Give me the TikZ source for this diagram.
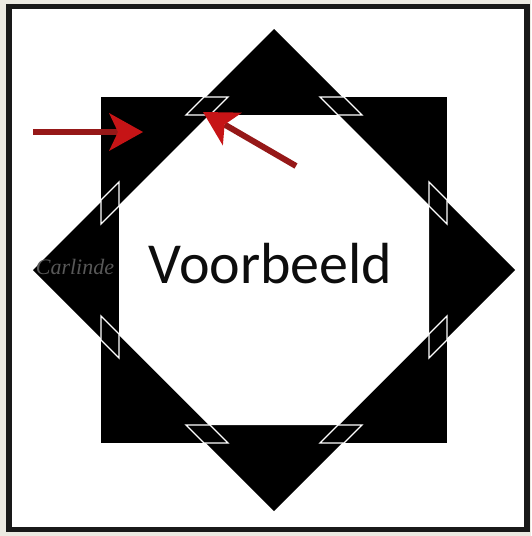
\documentclass[tikz,border=0pt]{standalone}
\usepackage{fontspec}
\setmainfont{Carlito}
\newfontfamily\signfont{Liberation Serif}
\usepackage{xcolor}
\usetikzlibrary{arrows.meta}

\definecolor{paper}{RGB}{236,234,226}
\definecolor{arrowred}{RGB}{150,24,24}
\definecolor{tipred}{RGB}{198,20,22}
\definecolor{signgray}{RGB}{88,88,88}

\begin{document}
\begin{tikzpicture}[
    x=1pt, y=-1pt,
    frame/.style={
        draw=black!90,
        line width=5.5pt,
        fill=white
    },
    band/.style={fill=black},
    hole/.style={fill=white},
    seam/.style={
        draw=white,
        line width=1.3pt,
        line join=miter
    },
    title/.style={
        font=\fontsize{58}{60}\selectfont,
        text=black!95,
        inner sep=0pt
    },
    sign/.style={
        font=\signfont\itshape\fontsize{22}{24}\selectfont,
        text=signgray,
        inner sep=0pt
    },
    pointer/.style={
        draw=arrowred,
        line width=6pt,
        -{Stealth[length=34pt, width=38pt, inset=9pt, color=tipred, line width=0pt]}
    }
]

\fill[paper] (0,0) rectangle (531,536);
\useasboundingbox (0,0) rectangle (531,536);
\draw[frame] (9,6.5) rectangle (527,529.5);

\begin{scope}[shift={(274,270)}]
% square and diamond
\fill[band] (-173,-173) rectangle (173,173);
\fill[band] (0,-241) -- (241,0) -- (0,241) -- (-241,0) -- cycle;
\fill[hole] (-65,-155) -- (65,-155) -- (155,-65) -- (155,65)
    -- (65,155) -- (-65,155) -- (-155,65) -- (-155,-65) -- cycle;

% crossings
\foreach \a in {0,90,180,270} {
    \draw[seam, rotate=\a] (-46,-173) -- (-70,-173) -- (-88,-155) -- (-64,-155) -- cycle;
    \draw[seam, rotate=\a] (46,-173) -- (70,-173) -- (88,-155) -- (64,-155) -- cycle;
}
\end{scope}

\node[title, anchor=base] (voorbeeld) at (270.5,283) {Voorbeeld};
\node[sign, anchor=base] (signature) at (75,274) {Carlinde};

\coordinate (tailA) at (33,132);
\coordinate (tipA) at (143,132);
\coordinate (tailB) at (296,166);
\coordinate (tipB) at (203,112);

\draw[pointer] (tailA) -- (tipA);
\draw[pointer] (tailB) -- (tipB);

\end{tikzpicture}
\end{document}
